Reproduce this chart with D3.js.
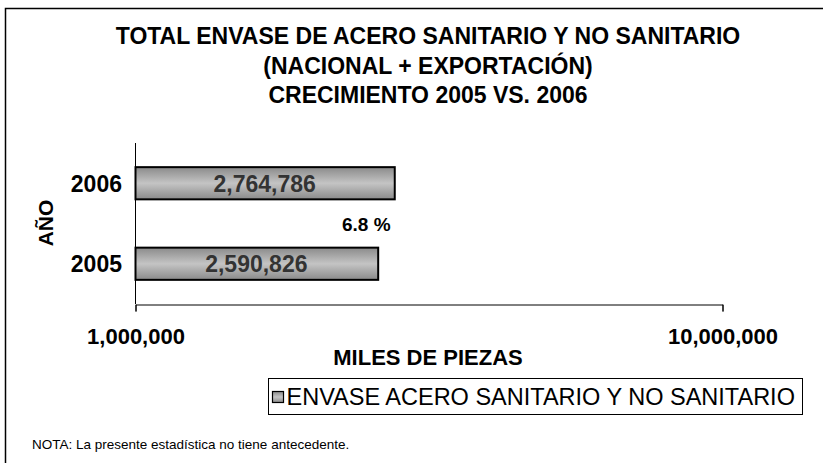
<!DOCTYPE html>
<html>
<head>
<meta charset="utf-8">
<script src="https://cdn.jsdelivr.net/npm/d3@7"></script>
<style>
  body { margin: 0; background: #fff; }
  svg { display: block; font-family: "Liberation Sans", Arial, sans-serif; }
</style>
</head>
<body>
<div class="container"></div>
<script>
// chart data
const years = ["2006", "2005"];
const values = [2764786, 2590826];
const growthLabel = "6.8 %";
const xTicks = [1000000, 10000000];
const titleLines = [
  "TOTAL ENVASE DE ACERO SANITARIO Y NO SANITARIO",
  "(NACIONAL + EXPORTACIÓN)",
  "CRECIMIENTO 2005 VS. 2006"
];
const seriesName = "ENVASE ACERO SANITARIO Y NO SANITARIO";
const note = "NOTA: La presente estadística no tiene antecedente.";

const W = 823, H = 463;
const margin = { top: 143, right: 101, bottom: 159, left: 135 };
const width = W - margin.left - margin.right;
const height = H - margin.top - margin.bottom;

const svg = d3.select(".container")
  .append("svg")
  .attr("width", W)
  .attr("height", H);

// gradient for the bars
const defs = svg.append("defs");
const grad = defs.append("linearGradient")
  .attr("id", "barGrad")
  .attr("x1", 0).attr("y1", 0).attr("x2", 0).attr("y2", 1);
grad.append("stop").attr("offset", "0%").attr("stop-color", "#8a8a8a");
grad.append("stop").attr("offset", "50%").attr("stop-color", "#c4c4c4");
grad.append("stop").attr("offset", "100%").attr("stop-color", "#8a8a8a");

// outer frame (runs off the right and bottom edge)
svg.append("rect")
  .attr("x", 5.5).attr("y", 8.5)
  .attr("width", 830).attr("height", 470)
  .attr("fill", "none")
  .attr("stroke", "#000")
  .attr("stroke-width", 1.5);

// title
svg.append("g")
  .selectAll("text")
  .data(titleLines)
  .join("text")
  .attr("x", 428)
  .attr("y", (d, i) => 44 + i * 29.5)
  .attr("text-anchor", "middle")
  .attr("font-size", 23)
  .attr("font-weight", "bold")
  .text(d => d);

const g = svg.append("g")
  .attr("transform", `translate(${margin.left}, ${margin.top})`);

const xScale = d3.scaleLog()
  .domain([1000000, 10000000])
  .range([0, width]);

const yScale = d3.scaleBand()
  .domain(years)
  .range([0, height])
  .paddingInner(0.6)
  .paddingOuter(0.3);

// y axis line
g.append("line")
  .attr("x1", 0.5).attr("x2", 0.5)
  .attr("y1", 0).attr("y2", height)
  .attr("stroke", "#000");

// x axis
const xAxis = d3.axisBottom(xScale)
  .tickValues(xTicks)
  .tickSize(7)
  .tickFormat(d3.format(","));

const xg = g.append("g")
  .attr("transform", `translate(0.5, ${height + 0.5})`)
  .call(xAxis);
xg.select(".domain").attr("stroke", "#000");
xg.selectAll(".tick line").attr("stroke", "#000");
xg.selectAll(".tick text")
  .attr("font-family", "Liberation Sans, Arial, sans-serif")
  .attr("font-size", 22)
  .attr("font-weight", "bold")
  .attr("fill", "#000")
  .attr("y", 24)
  .attr("dy", "0.71em");

// year labels
g.selectAll(".ylab")
  .data(years)
  .join("text")
  .attr("class", "ylab")
  .attr("x", -13)
  .attr("y", d => yScale(d) + yScale.bandwidth() / 2)
  .attr("dy", "0.36em")
  .attr("text-anchor", "end")
  .attr("font-size", 23)
  .attr("font-weight", "bold")
  .text(d => d);

// bars
g.selectAll(".bar")
  .data(values)
  .join("rect")
  .attr("class", "bar")
  .attr("x", 0.5)
  .attr("y", (d, i) => yScale(years[i]))
  .attr("width", d => xScale(d))
  .attr("height", yScale.bandwidth())
  .attr("fill", "url(#barGrad)")
  .attr("stroke", "#000")
  .attr("stroke-width", 2);

// value labels inside bars
g.selectAll(".val")
  .data(values)
  .join("text")
  .attr("class", "val")
  .attr("x", d => xScale(d) / 2)
  .attr("y", (d, i) => yScale(years[i]) + yScale.bandwidth() / 2)
  .attr("dy", "0.36em")
  .attr("text-anchor", "middle")
  .attr("font-size", 23)
  .attr("font-weight", "bold")
  .attr("fill", "#333")
  .text(d => d3.format(",")(d));

// growth label
g.append("text")
  .attr("x", xScale(values[0]) - 28)
  .attr("y", height / 2 + 7)
  .attr("text-anchor", "middle")
  .attr("font-size", 19)
  .attr("font-weight", "bold")
  .text(growthLabel);

// axis titles
svg.append("text")
  .attr("transform", "translate(53, 223) rotate(-90)")
  .attr("text-anchor", "middle")
  .attr("font-size", 21)
  .attr("font-weight", "bold")
  .text("AÑO");

svg.append("text")
  .attr("x", 428)
  .attr("y", 365)
  .attr("text-anchor", "middle")
  .attr("font-size", 22)
  .attr("font-weight", "bold")
  .text("MILES DE PIEZAS");

// legend
const legend = svg.append("g").attr("transform", "translate(268.5, 378.5)");
legend.append("rect")
  .attr("width", 534).attr("height", 36)
  .attr("fill", "#fff").attr("stroke", "#000");
legend.append("rect")
  .attr("x", 4).attr("y", 13)
  .attr("width", 11).attr("height", 11)
  .attr("fill", "url(#barGrad)")
  .attr("stroke", "#000")
  .attr("stroke-width", 1.2);
legend.append("text")
  .attr("x", 18).attr("y", 18)
  .attr("dy", "0.36em")
  .attr("font-size", 23.5)
  .text(seriesName);

// note
svg.append("text")
  .attr("x", 32)
  .attr("y", 449)
  .attr("font-size", 13.5)
  .text(note);
</script>
</body>
</html>
